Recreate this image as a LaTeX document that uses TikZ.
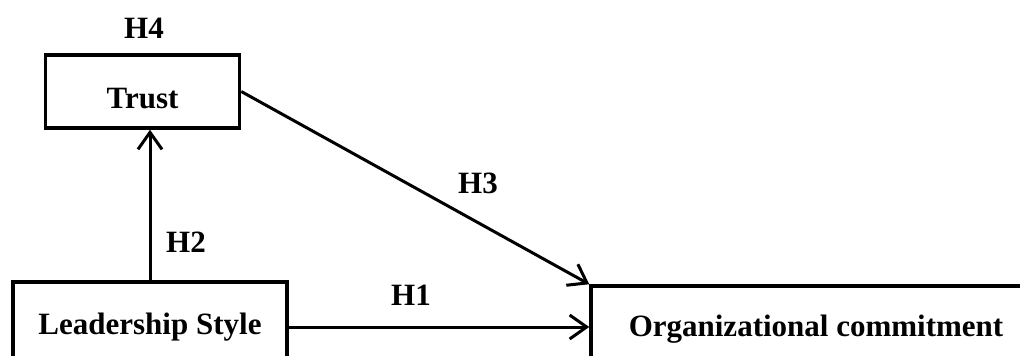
\documentclass[tikz,border=0pt]{standalone}
\usepackage{fontspec}
\setmainfont{Liberation Serif}
\usetikzlibrary{arrows.meta,calc}
\tikzset{
  box/.style={draw=black, line width=3.5pt, rectangle, inner sep=0pt,
    font=\fontsize{31}{36}\selectfont\bfseries},
  hyp/.style={font=\fontsize{31}{36}\selectfont\bfseries, inner sep=0pt},
  link/.style={draw=black, line width=3pt,
    -{Straight Barb[length=17pt,width=24pt,line width=3pt]}}
}
\begin{document}
\begin{tikzpicture}[x=1pt,y=-1pt]
  \useasboundingbox (0,0) rectangle (1020,356);
  \clip (0,0) rectangle (1020,356);
  % construct boxes
  \node[box, minimum width=194pt, minimum height=73pt, text height=33pt, text depth=0pt] (trust) at (142.5,91.5) {Trust};
  \node[box, minimum width=274pt, minimum height=90pt] (ls) at (150,327) {Leadership Style};
  \node[box, minimum width=450pt, minimum height=86pt] (oc) at (816,329) {Organizational commitment};
  % hypothesis paths
  \draw[link] (ls.north) -- (ls.north |- trust.south);
  \draw[link] (trust.east) -- (oc.north west);
  \draw[link] (ls.east) -- (ls.east -| oc.west);
  % hypothesis labels
  \node[hyp] (h4) at (144,28) {H4};
  \node[hyp] (h2) at (186,242) {H2};
  \node[hyp] (h3) at (478,183) {H3};
  \node[hyp] (h1) at (411,295) {H1};
\end{tikzpicture}
\end{document}
